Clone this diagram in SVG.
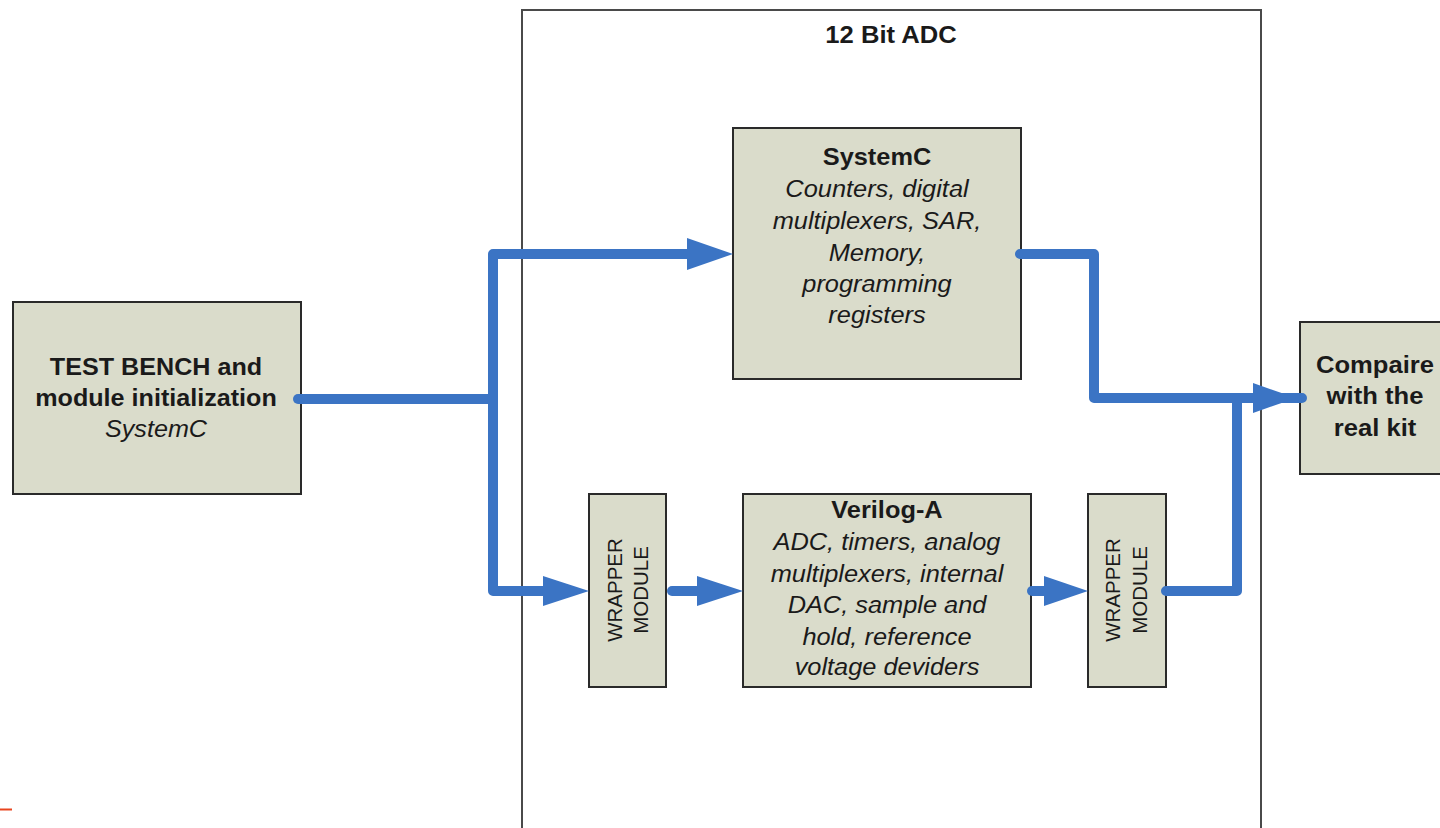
<svg xmlns="http://www.w3.org/2000/svg" width="1440" height="828" viewBox="0 0 1440 828">
<style>
.box{fill:#dadccb;stroke:#2a2a2a;stroke-width:2}
.t{font-family:"Liberation Sans",Arial,sans-serif;font-size:23.5px;fill:#1a1a1a;text-anchor:middle}
.b{font-weight:bold}
.i{font-style:italic}
.w{font-family:"Liberation Sans",Arial,sans-serif;font-size:20.5px;fill:#1a1a1a;text-anchor:middle}
.ln{fill:none;stroke:#3b74c4;stroke-width:10;stroke-linecap:round;stroke-linejoin:round}
.ah{fill:#3b74c4}
</style>
<rect width="1440" height="828" fill="#ffffff"/>
<g id="adc">
<rect x="522" y="10" width="739" height="840" fill="none" stroke="#4a4a4a" stroke-width="2"/>
<g transform="translate(891,0) scale(1.09,1)"><text class="t b" x="0" y="43">12 Bit ADC</text></g>
</g>
<g id="testbench">
<rect class="box" x="13" y="302" width="288" height="192"/>
<g transform="translate(156,0) scale(1.07,1)">
<text class="t b" x="0" y="375">TEST BENCH and</text>
<text class="t b" x="0" y="406">module initialization</text>
<text class="t i" x="0" y="437">SystemC</text>
</g>
</g>
<g id="systemc">
<rect class="box" x="733" y="128" width="288" height="251"/>
<g transform="translate(877,0) scale(1.08,1)">
<text class="t b" x="0" y="165">SystemC</text>
<text class="t i" x="0" y="197">Counters, digital</text>
<text class="t i" x="0" y="229">multiplexers, SAR,</text>
<text class="t i" x="0" y="261">Memory,</text>
<text class="t i" x="0" y="292">programming</text>
<text class="t i" x="0" y="323">registers</text>
</g>
</g>
<g id="wrapper1">
<rect class="box" x="589" y="494" width="77" height="193"/>
<text class="w" transform="translate(622,590) rotate(-90)">WRAPPER</text>
<text class="w" transform="translate(648,590) rotate(-90)">MODULE</text>
</g>
<g id="veriloga">
<rect class="box" x="743" y="494" width="288" height="193"/>
<g transform="translate(887,0) scale(1.08,1)">
<text class="t b" x="0" y="518">Verilog-A</text>
<text class="t i" x="0" y="550">ADC, timers, analog</text>
<text class="t i" x="0" y="582">multiplexers, internal</text>
<text class="t i" x="0" y="613">DAC, sample and</text>
<text class="t i" x="0" y="645">hold, reference</text>
<text class="t i" x="0" y="675">voltage deviders</text>
</g>
</g>
<g id="wrapper2">
<rect class="box" x="1088" y="494" width="78" height="193"/>
<text class="w" transform="translate(1120,590) rotate(-90)">WRAPPER</text>
<text class="w" transform="translate(1147,590) rotate(-90)">MODULE</text>
</g>
<g id="compare">
<rect class="box" x="1300" y="322" width="160" height="152"/>
<g transform="translate(1375,0) scale(1.09,1)">
<text class="t b" x="0" y="373">Compaire</text>
<text class="t b" x="0" y="404">with the</text>
<text class="t b" x="0" y="436">real kit</text>
</g>
</g>
<g id="connectors">
<path class="ln" d="M298,399 H493"/>
<path class="ln" d="M692,254 H493 V591 H550"/>
<polygon class="ah" points="687,238 733,254 687,270"/>
<polygon class="ah" points="543,576 589,591 543,606"/>
<path class="ln" d="M672,591 H700"/>
<polygon class="ah" points="697,576 743,591 697,606"/>
<path class="ln" d="M1032,591 H1048"/>
<polygon class="ah" points="1044,576 1088,591 1044,606"/>
<path class="ln" d="M1020,254 H1094 V398 H1302"/>
<path class="ln" d="M1166,591 H1237 V398"/>
<polygon class="ah" points="1253,383 1296,398 1253,413"/>
</g>
<line x1="0" y1="809.5" x2="12" y2="809.5" stroke="#e8451e" stroke-width="2"/>
</svg>
